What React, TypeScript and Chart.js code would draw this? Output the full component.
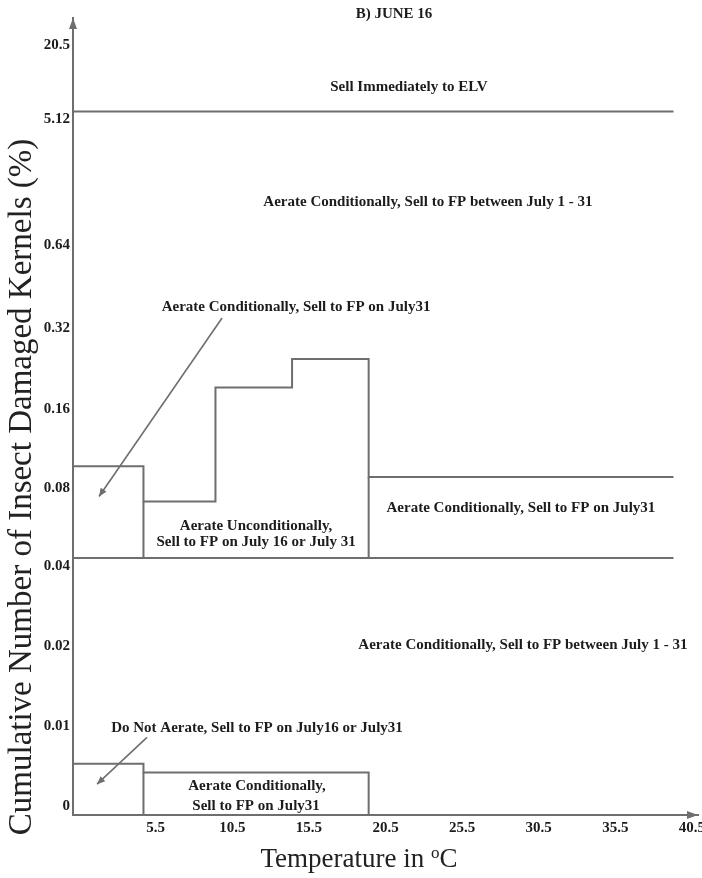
import React, { useEffect, useRef } from 'react';
import { Chart, registerables, LinearScale } from 'chart.js';

// ---------- data ----------
const TEMP_TICKS = [5.5, 10.5, 15.5, 20.5, 25.5, 30.5, 35.5, 40.5];
const X_MIN = 0.1;
const X_MAX = 40.9;

const Y_TICK_VALUES = [0, 0.01, 0.02, 0.04, 0.08, 0.16, 0.32, 0.64, 5.12, 20.5];
const Y_TICK_LABELS = ['0', '0.01', '0.02', '0.04', '0.08', '0.16', '0.32', '0.64', '5.12', '20.5'];
// relative spacing of the (non-uniform) y axis ticks
const Y_TICK_RANKS = [0, 1, 2, 3, 3.98, 4.96, 5.97, 7.01, 8.58, 9.51];
const Y_MIN = -0.0021;
const Y_MAX = 29.3;

const BAND_EDGES = [0.1, 4.7, 9.4, 14.4, 19.4, 39.3];
const UPPER_LEVELS = [0.09, 0.066, 0.18, 0.23, 0.082];
const LOWER_EDGES = [0.1, 4.7, 19.4];
const LOWER_LEVELS = [0.0043, 0.0032];
const ELV_THRESHOLD = 5.12;
const AERATE_THRESHOLD = 0.04;

const REGION_TEXTS = [
  'Sell Immediately to ELV',
  'Aerate Conditionally, Sell to FP between July 1 - 31',
  'Aerate Conditionally, Sell to FP on July31',
  'Aerate Unconditionally,',
  'Sell to FP on July 16 or July 31',
  'Aerate Conditionally, Sell to FP on July31',
  'Aerate Conditionally, Sell to FP between July 1 - 31',
  'Do Not Aerate, Sell to FP on July16 or July31',
  'Aerate Conditionally,',
  'Sell to FP on July31',
];
const REGION_X = [22.03, 23.27, 14.66, 12.05, 12.05, 29.34, 29.47, 12.11, 12.11, 12.05];
const REGION_Y = [8.1, 1.15, 0.358, 0.0531, 0.0461, 0.0622, 0.0188, 0.00875, 0.0015, -0.001];

const POINTER_FROM_X = [9.83, 4.93];
const POINTER_FROM_Y = [0.3265, 0.0076];
const POINTER_TO_X = [1.8, 1.67];
const POINTER_TO_Y = [0.069, 0.00175];

const TITLE = 'B) JUNE 16';
const Y_TITLE = 'Cumulative Number of Insect Damaged Kernels (%)';
const X_TITLE = 'Temperature in ';

// ---------- styling ----------
const FONT = '"Liberation Serif", "Times New Roman", serif';
const LINE_COLOR = '#6e6e6e';
const TEXT_COLOR = '#1c1c1c';

// ---------- non-uniform y scale ----------
function toRank(v: number): number {
  const T = Y_TICK_VALUES, R = Y_TICK_RANKS;
  if (v <= T[1]) return R[0] + ((v - T[0]) / (T[1] - T[0])) * (R[1] - R[0]);
  for (let i = 1; i < T.length - 1; i++) {
    if (v <= T[i + 1]) return R[i] + (Math.log(v / T[i]) / Math.log(T[i + 1] / T[i])) * (R[i + 1] - R[i]);
  }
  const n = T.length - 1;
  return R[n] + (Math.log(v / T[n]) / Math.log(T[n] / T[n - 1])) * (R[n] - R[n - 1]);
}
function fromRank(r: number): number {
  const T = Y_TICK_VALUES, R = Y_TICK_RANKS;
  if (r <= R[1]) return T[0] + ((r - R[0]) / (R[1] - R[0])) * (T[1] - T[0]);
  for (let i = 1; i < T.length - 1; i++) {
    if (r <= R[i + 1]) return T[i] * Math.pow(T[i + 1] / T[i], (r - R[i]) / (R[i + 1] - R[i]));
  }
  const n = T.length - 1;
  return T[n] * Math.pow(T[n] / T[n - 1], (r - R[n]) / (R[n] - R[n - 1]));
}

class RankScale extends (LinearScale as any) {
  static id = 'rank';
  static defaults = {};
  determineDataLimits() {
    this.min = toRank(Y_MIN);
    this.max = toRank(Y_MAX);
  }
  buildTicks() {
    return Y_TICK_VALUES.map((value) => ({ value }));
  }
  getPixelForValue(value: number) {
    if (value === null || value === undefined || Number.isNaN(value)) return NaN;
    return this.getPixelForDecimal((toRank(value) - this._startValue) / this._valueRange);
  }
  getValueForPixel(pixel: number) {
    return fromRank(this._startValue + this.getDecimalForPixel(pixel) * this._valueRange);
  }
}

Chart.register(...registerables, RankScale as any);

function stepPoints(edges: number[], levels: number[]) {
  const pts: { x: number; y: number | null }[] = [];
  levels.forEach((lv, i) => {
    pts.push({ x: edges[i], y: lv });
    pts.push({ x: edges[i + 1], y: lv });
  });
  return pts;
}

function arrowHead(ctx: CanvasRenderingContext2D, x1: number, y1: number, x2: number, y2: number, len: number, half: number) {
  const a = Math.atan2(y2 - y1, x2 - x1);
  ctx.beginPath();
  ctx.moveTo(x2, y2);
  ctx.lineTo(x2 - len * Math.cos(a) + half * Math.sin(a), y2 - len * Math.sin(a) - half * Math.cos(a));
  ctx.lineTo(x2 - len * Math.cos(a) - half * Math.sin(a), y2 - len * Math.sin(a) + half * Math.cos(a));
  ctx.closePath();
  ctx.fill();
}

const decorPlugin = {
  id: 'decor',
  afterDraw(chart: any) {
    const { ctx, chartArea } = chart;
    const xs = chart.scales.x;
    const ys = chart.scales.y;
    ctx.save();
    // axis arrowheads
    ctx.fillStyle = LINE_COLOR;
    arrowHead(ctx, chartArea.left, chartArea.bottom, chartArea.left, chartArea.top, 11, 4);
    arrowHead(ctx, chartArea.left, chartArea.bottom, chartArea.right, chartArea.bottom, 11, 4);

    // pointer arrows
    ctx.strokeStyle = LINE_COLOR;
    ctx.lineWidth = 1.6;
    for (let i = 0; i < POINTER_FROM_X.length; i++) {
      const x1 = xs.getPixelForValue(POINTER_FROM_X[i]);
      const y1 = ys.getPixelForValue(POINTER_FROM_Y[i]);
      const x2 = xs.getPixelForValue(POINTER_TO_X[i]);
      const y2 = ys.getPixelForValue(POINTER_TO_Y[i]);
      ctx.beginPath();
      ctx.moveTo(x1, y1);
      ctx.lineTo(x2, y2);
      ctx.stroke();
      arrowHead(ctx, x1, y1, x2, y2, 8, 3.5);
    }

    // region texts
    ctx.fillStyle = TEXT_COLOR;
    ctx.font = `bold 15px ${FONT}`;
    ctx.textAlign = 'center';
    ctx.textBaseline = 'middle';
    REGION_TEXTS.forEach((t, i) => {
      ctx.fillText(t, xs.getPixelForValue(REGION_X[i]), ys.getPixelForValue(REGION_Y[i]));
    });

    // title
    ctx.fillText(TITLE, 394, 14);

    // y title
    ctx.save();
    ctx.translate(22, 487);
    ctx.rotate(-Math.PI / 2);
    ctx.font = `33px ${FONT}`;
    ctx.fillStyle = '#222';
    ctx.fillText(Y_TITLE, 0, 0);
    ctx.restore();

    // x title with superscript o
    ctx.fillStyle = '#222';
    ctx.textAlign = 'left';
    ctx.textBaseline = 'alphabetic';
    ctx.font = `27px ${FONT}`;
    const w1 = ctx.measureText(X_TITLE).width;
    const wC = ctx.measureText('C').width;
    ctx.font = `17px ${FONT}`;
    const wo = ctx.measureText('o').width;
    const total = w1 + wo + wC;
    let px = 359 - total / 2;
    const base = 867;
    ctx.font = `27px ${FONT}`;
    ctx.fillText(X_TITLE, px, base);
    px += w1;
    ctx.font = `17px ${FONT}`;
    ctx.fillText('o', px, base - 9);
    px += wo;
    ctx.font = `27px ${FONT}`;
    ctx.fillText('C', px, base);
    ctx.restore();
  },
};

export default function App() {
  const ref = useRef<HTMLCanvasElement | null>(null);
  useEffect(() => {
    document.body.style.margin = '0';
    if (!ref.current) return;
    const lineStyle = {
      showLine: true,
      borderColor: LINE_COLOR,
      borderWidth: 2,
      pointRadius: 0,
      fill: false,
      spanGaps: false,
    };
    const upper = stepPoints(BAND_EDGES, UPPER_LEVELS);
    const lower = stepPoints(LOWER_EDGES, LOWER_LEVELS);
    lower.push({ x: LOWER_EDGES[LOWER_EDGES.length - 1], y: Y_MIN });
    const dividers = [
      { x: BAND_EDGES[1], y: UPPER_LEVELS[1] },
      { x: BAND_EDGES[1], y: AERATE_THRESHOLD },
      { x: BAND_EDGES[1], y: null },
      { x: BAND_EDGES[4], y: UPPER_LEVELS[4] },
      { x: BAND_EDGES[4], y: AERATE_THRESHOLD },
      { x: BAND_EDGES[4], y: null },
      { x: LOWER_EDGES[1], y: LOWER_LEVELS[1] },
      { x: LOWER_EDGES[1], y: Y_MIN },
    ];
    const lineEnd = BAND_EDGES[BAND_EDGES.length - 1];
    const chart = new Chart(ref.current, {
      type: 'scatter',
      data: {
        datasets: [
          { label: 'ELV', data: [{ x: BAND_EDGES[0], y: ELV_THRESHOLD }, { x: lineEnd, y: ELV_THRESHOLD }], ...lineStyle },
          { label: 'Aerate', data: [{ x: BAND_EDGES[0], y: AERATE_THRESHOLD }, { x: lineEnd, y: AERATE_THRESHOLD }], ...lineStyle },
          { label: 'Upper', data: upper, ...lineStyle },
          { label: 'Lower', data: lower, ...lineStyle },
          { label: 'Dividers', data: dividers, ...lineStyle },
        ] as any,
      },
      options: {
        animation: false,
        responsive: true,
        maintainAspectRatio: false,
        layout: { padding: { top: 18, right: 4, left: 0, bottom: 0 } },
        plugins: { legend: { display: false }, tooltip: { enabled: false }, title: { display: false } },
        scales: {
          x: {
            type: 'linear',
            min: X_MIN,
            max: X_MAX,
            grid: { display: false, drawTicks: false },
            border: { display: true, color: LINE_COLOR, width: 2 },
            afterBuildTicks: (s: any) => {
              s.ticks = TEMP_TICKS.map((value) => ({ value }));
            },
            afterFit: (s: any) => {
              s.height = 63;
              s.paddingLeft = 0;
              s.paddingRight = 0;
            },
            ticks: {
              autoSkip: false,
              maxRotation: 0,
              padding: 4,
              color: TEXT_COLOR,
              font: { family: FONT, size: 15, weight: 'bold' },
              callback: (v: any) => String(v),
            },
          },
          y: {
            type: 'rank' as any,
            grid: { display: false, drawTicks: false },
            border: { display: true, color: LINE_COLOR, width: 2 },
            afterFit: (s: any) => {
              s.width = 73;
              s.paddingTop = 0;
              s.paddingBottom = 0;
            },
            ticks: {
              autoSkip: false,
              padding: 3,
              labelOffset: 8,
              color: TEXT_COLOR,
              font: { family: FONT, size: 15, weight: 'bold' },
              callback: (v: any) => {
                const i = Y_TICK_VALUES.indexOf(v);
                return i >= 0 ? Y_TICK_LABELS[i] : '';
              },
            },
          } as any,
        },
      } as any,
      plugins: [decorPlugin],
    });
    return () => chart.destroy();
  }, []);
  return (
    <div style={{ position: 'absolute', left: 0, top: 0, width: 702, height: 878 }}>
      <canvas ref={ref} />
    </div>
  );
}
